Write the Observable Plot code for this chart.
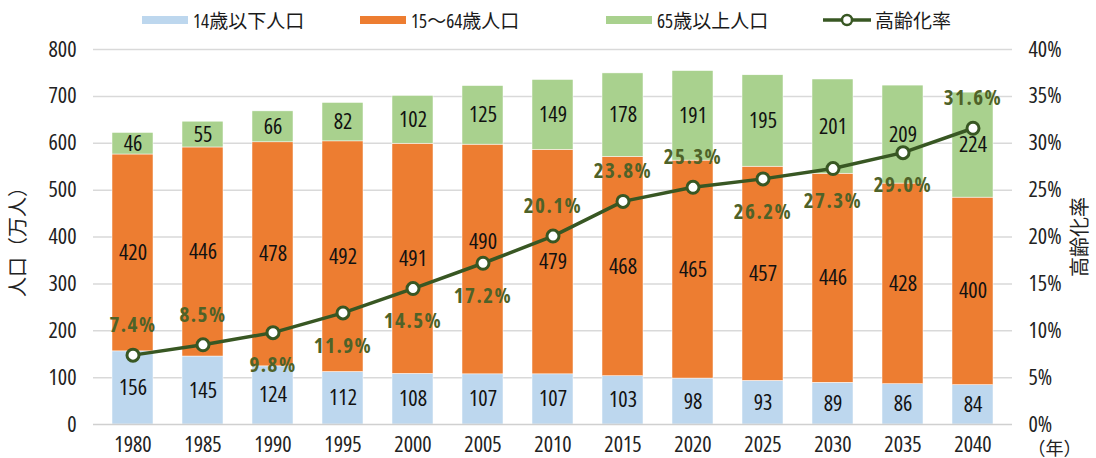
<!DOCTYPE html>
<html><head><meta charset="utf-8">
<script src="https://cdn.jsdelivr.net/npm/d3@7"></script>
<script src="https://cdn.jsdelivr.net/npm/@observablehq/plot@0.6"></script>
<style>
body{margin:0;background:#fff;font-family:'Open Sans','Noto Sans CJK JP',sans-serif;font-stretch:75%;}
#legend{position:relative;height:30px;width:1096px;font-size:19px;color:#1a1a1a;}
.item{position:absolute;top:9px;display:flex;align-items:center;height:22px;white-space:nowrap;}
.sw{display:inline-block;width:46px;height:8px;margin-right:5px;}
svg text{font-stretch:75%;}
</style></head>
<body>
<div id="legend"></div>
<div id="chart"></div>
<script>
const years = ["1980","1985","1990","1995","2000","2005","2010","2015","2020","2025","2030","2035","2040"];
const under15 = [156,145,124,112,108,107,107,103,98,93,89,86,84];
const age15to64 = [420,446,478,492,491,490,479,468,465,457,446,428,400];
const over65 = [46,55,66,82,102,125,149,178,191,195,201,209,224];
const agingRate = [7.4,8.5,9.8,11.9,14.5,17.2,20.1,23.8,25.3,26.2,27.3,29.0,31.6];
const seriesNames = ["14歳以下人口","15〜64歳人口","65歳以上人口"];
const rateName = "高齢化率";
const popTicks = [0,100,200,300,400,500,600,700,800];
const pctTicks = [0,5,10,15,20,25,30,35,40];
const pctLabelSide = ["above","above","below","below","below","below","above","above","above","below","below","below","above"];
const yAxisTitle = "人口（万人）";
const yRightTitle = "高齢化率";
const xUnit = "（年）";

const colors = ["#bdd7ee","#ed7d31","#a9d18e"];
const lineColor = "#385723";
const labelGreen = "#4f6228";
const pctToPop = 800/40;

const seriesValues = [under15, age15to64, over65];
const rows = [];
years.forEach((yr,i)=>{
  let base = 0;
  seriesValues.forEach((vals,s)=>{
    const lo = base, hi = base + vals[i];
    base = hi;
    let mid = (lo+hi)/2;
    const ry = agingRate[i]*pctToPop;
    if (Math.abs(mid - ry) < 25) mid = ry + 45; // keep label clear of the marker
    rows.push({year: yr, series: seriesNames[s], value: vals[i], lo, hi, mid});
  });
});
const rate = years.map((yr,i)=>({year: yr, rate: agingRate[i], side: pctLabelSide[i]}));

const lg = document.getElementById("legend");
const lefts = [142,360,606];
seriesNames.forEach((n,i)=>{
  const d = document.createElement("div");
  d.className="item"; d.style.left=lefts[i]+"px";
  d.innerHTML = `<span class="sw" style="background:${colors[i]}"></span><span>${n}</span>`;
  lg.appendChild(d);
});
{
  const d = document.createElement("div");
  d.className="item"; d.style.left="823px";
  d.innerHTML = `<svg width="48" height="14" style="margin-right:4px"><line x1="0" y1="7" x2="48" y2="7" stroke="${lineColor}" stroke-width="3.5"/><circle cx="24" cy="7" r="5" fill="#fff" stroke="${lineColor}" stroke-width="2.5"/></svg><span>${rateName}</span>`;
  lg.appendChild(d);
}

const font = "'Open Sans','Noto Sans CJK JP',sans-serif";
const numSize = 22;
const chart = Plot.plot({
  width: 1096,
  height: 428,
  marginLeft: 93,
  marginRight: 84,
  marginTop: 19,
  marginBottom: 34,
  style: {fontFamily: font, fontSize: numSize + "px", color: "#1a1a1a", background: "#fff"},
  x: {type: "band", domain: years, paddingInner: 0.41, paddingOuter: 0.205, axis: null},
  y: {domain: [0, 800], axis: null},
  color: {domain: seriesNames, range: colors},
  marks: [
    Plot.ruleY(popTicks.slice(1), {stroke: "#d9d9d9", strokeWidth: 1.5}),
    Plot.barY(rows, {x: "year", y1: "lo", y2: "hi", fill: "series", stroke: "#fff", strokeWidth: 0.5}),
    Plot.ruleY([0], {stroke: "#d0d0d0", strokeWidth: 1.5}),
    Plot.text(rows, {x: "year", y: "mid", text: d => String(d.value), fill: "#111", fontSize: numSize}),
    Plot.axisY(popTicks, {anchor: "left", tickSize: 0, tickPadding: 17, label: null, fontSize: numSize, fill: "#222"}),
    Plot.axisY(pctTicks.map(p => p*pctToPop), {anchor: "right", tickSize: 0, tickPadding: 16, label: null, tickFormat: d => (d/pctToPop) + "%", fontSize: numSize, fill: "#222"}),
    Plot.axisX(years, {anchor: "bottom", tickSize: 0, tickPadding: 12, label: null, fontSize: numSize, fill: "#222"}),
    Plot.line(rate, {x: "year", y: d => d.rate*pctToPop, stroke: lineColor, strokeWidth: 3.5}),
    Plot.dot(rate, {x: "year", y: d => d.rate*pctToPop, r: 6, fill: "#fff", stroke: lineColor, strokeWidth: 3}),
    Plot.text(rate.filter(d=>d.side==="above"), {x: "year", y: d => d.rate*pctToPop, text: d => d.rate.toFixed(1)+"%", dy: -30, fill: labelGreen, fontWeight: "bold", fontSize: 21}),
    Plot.text(rate.filter(d=>d.side==="below"), {x: "year", y: d => d.rate*pctToPop, text: d => d.rate.toFixed(1)+"%", dy: 33, fill: labelGreen, fontWeight: "bold", fontSize: 21}),
    Plot.text([yAxisTitle], {frameAnchor: "left", textAnchor: "middle", text: d => d, rotate: -90, dx: -75, fontSize: 20, fill: "#222"}),
    Plot.text([yRightTitle], {frameAnchor: "right", textAnchor: "middle", text: d => d, rotate: -90, dx: 68, fontSize: 20, fill: "#222"}),
    Plot.text([xUnit], {frameAnchor: "bottom-right", textAnchor: "start", text: d => d, dx: 15, dy: 30, fontSize: 18, fill: "#222"})
  ]
});
document.getElementById("chart").appendChild(chart);
chart.querySelectorAll("text").forEach(t=>{
  const g = t.closest("g");
  if (g && g.getAttribute("fill") === labelGreen) t.style.letterSpacing = "1.5px";
});
</script>
</body></html>
